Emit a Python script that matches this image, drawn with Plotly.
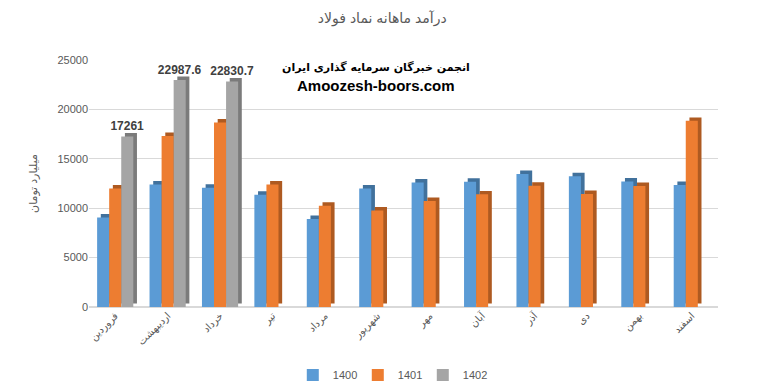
import plotly.graph_objects as go

months = ["فروردین", "اردیبهشت", "خرداد", "تیر", "مرداد", "شهریور",
          "مهر", "آبان", "آذر", "دی", "بهمن", "اسفند"]
s1400 = [9070, 12400, 12070, 11370, 8900, 12000, 12600, 12670, 13470, 13240, 12700, 12340]
s1401 = [12000, 17300, 18670, 12400, 10240, 9770, 10740, 11400, 12270, 11440, 12240, 18840]
s1402 = [17261, 22987.6, 22830.7, None, None, None, None, None, None, None, None, None]
series_names = ["1400", "1401", "1402"]
y_ticks = [0, 5000, 10000, 15000, 20000, 25000]

front_colors = ["#5b9bd5", "#ed7d31", "#a5a5a5"]
side_colors = ["#41719c", "#ae5a21", "#7b7b7b"]
bar_w = 0.23
depth_x = 0.07
depth_y = 350

fig = go.Figure()
for i, (name, vals) in enumerate(zip(series_names, [s1400, s1401, s1402])):
    off = -0.345 + i * bar_w
    # side/top (3D depth)
    fig.add_trace(go.Bar(
        x=months, y=vals, base=depth_y, offset=off + depth_x, width=bar_w,
        marker=dict(color=side_colors[i], line=dict(width=0)),
        showlegend=False, hoverinfo="skip"))
    kw = {}
    if i == 2:
        kw = dict(text=[("%g" % v) if v is not None else "" for v in vals],
                  textposition="outside", constraintext="none",
                  textfont=dict(size=12, color="#404040", family="Liberation Sans, Arial",
                                weight="bold"))
    fig.add_trace(go.Bar(
        x=months, y=vals, offset=off, width=bar_w, name=name,
        marker=dict(color=front_colors[i], line=dict(width=0)),
        cliponaxis=False, **kw))

fig.update_layout(
    barmode="overlay",
    width=757, height=388,
    margin=dict(l=89, r=39, t=60, b=81, autoexpand=False),
    paper_bgcolor="white", plot_bgcolor="white",
    font=dict(family="Liberation Sans, DejaVu Sans, Arial", color="#595959"),
    title=dict(text="درآمد ماهانه نماد فولاد", x=0.505, xanchor="center", y=0.953,
               yanchor="middle", font=dict(size=14, color="#595959")),
    xaxis=dict(range=[-0.5, 11.5], tickangle=-45, tickfont=dict(size=10, color="#595959"),
               showgrid=False, showline=False, ticks=""),
    yaxis=dict(range=[0, 25000], tickvals=y_ticks, ticktext=[str(t) for t in y_ticks],
               tickfont=dict(size=11, color="#595959"),
               gridcolor="#d9d9d9", zeroline=True, zerolinecolor="#d9d9d9",
               title=dict(text="میلیارد تومان", font=dict(size=11, color="#595959"), standoff=17),
               ticks="", showline=False),
    legend=dict(orientation="h", x=0.479, xanchor="center", y=-0.275, yanchor="middle",
                font=dict(size=11, color="#595959"), itemwidth=30,
                entrywidth=20, entrywidthmode="pixels"),
    annotations=[
        dict(text="<b>انجمن خبرگان سرمایه گذاری ایران</b>", x=0.456, y=1.005, xref="paper", yref="paper",
             showarrow=False, font=dict(size=11, color="black", family="DejaVu Sans")),
        dict(text="<b>Amoozesh-boors.com</b>", x=0.456, y=0.94, xref="paper", yref="paper",
             showarrow=False, font=dict(size=15, color="black", family="Liberation Sans, Arial")),
    ],
)

fig.write_html("out.html", config={"displayModeBar": False},
               post_script="document.body.style.margin='0';document.body.style.padding='0';")
